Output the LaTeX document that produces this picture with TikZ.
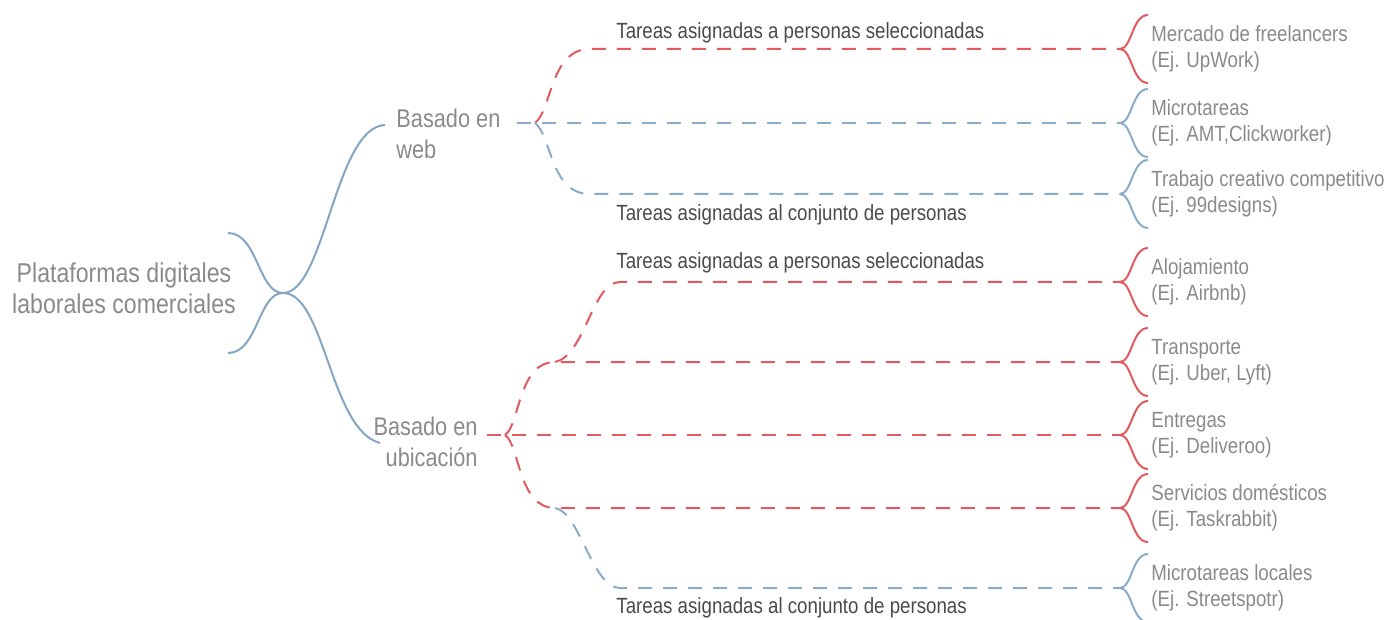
\documentclass[tikz,border=0pt]{standalone}
\usepackage{fontspec}
\setmainfont{Liberation Sans}[FakeStretch=0.85]
\definecolor{brred}{HTML}{E05A5F}
\definecolor{brblue}{HTML}{8AACC8}
\definecolor{rootblue}{HTML}{84A6C2}
\definecolor{txtgray}{HTML}{8A8A8A}
\definecolor{labgray}{HTML}{4A4A4A}
\tikzset{
  maintxt/.style={inner sep=0pt,text=txtgray,font=\fontsize{12.8}{15.5}\selectfont},
  leaftxt/.style={inner sep=0pt,anchor=west,align=left,text=txtgray,font=\fontsize{11}{13}\selectfont},
  tasklab/.style={inner sep=0pt,anchor=west,text=labgray,font=\fontsize{11}{13}\selectfont},
  rootline/.style={rootblue,line width=1pt},
  redpath/.style={brred,line width=1pt,dash pattern=on 7pt off 5.5pt},
  bluepath/.style={brblue,line width=1pt,dash pattern=on 7pt off 5.5pt},
}
\begin{document}
\begin{tikzpicture}[x=0.5pt,y=-0.5pt]
\useasboundingbox (0,0) rectangle (1392,620);

\node[maintxt,align=center,font=\fontsize{13.6}{15.5}\selectfont] (root) at (124,288) {Plataformas digitales\\laborales comerciales};
\node[maintxt,align=left,anchor=west] (web) at (396,134) {Basado en\\web};
\node[maintxt,align=right,anchor=east] (ubi) at (478,442) {Basado en\\ubicación};

\coordinate (rtip) at (283,293);
\coordinate (rtop) at (228,233);
\coordinate (rbot) at (228,353);
\coordinate (wend) at (385,125);
\coordinate (uend) at (380,443);

% root brace
\draw[rootline] (rtop) .. controls (258,233) and (258,293) .. (rtip);
\draw[rootline] (rbot) .. controls (258,353) and (258,293) .. (rtip);
\draw[rootline] (rtip) .. controls (325,293) and (335,127) .. (wend);
\draw[rootline] (rtip) .. controls (325,293) and (330,430) .. (uend);

% leaves
\foreach \n/\y/\c/\t in {1/49/brred/{Mercado de freelancers\\(Ej. UpWork)},
    2/123/brblue/{Microtareas\\(Ej. AMT,Clickworker)},
    3/194/brblue/{Trabajo creativo competitivo\\(Ej. 99designs)},
    4/282/brred/{Alojamiento\\(Ej. Airbnb)},
    5/362/brred/{Transporte\\(Ej. Uber, Lyft)},
    6/435/brred/{Entregas\\(Ej. Deliveroo)},
    7/508/brred/{Servicios domésticos\\(Ej. Taskrabbit)},
    8/588/brblue/{Microtareas locales\\(Ej. Streetspotr)}}{
  \coordinate (b\n) at (1120,\y);
  \draw[\c,line width=1pt] (b\n) .. controls (1132,\y) and (1132,{\y-34}) .. (1148,{\y-34});
  \draw[\c,line width=1pt] (b\n) .. controls (1132,\y) and (1132,{\y+34}) .. (1148,{\y+34});
  \node[leaftxt] (l\n) at (1151,\y) {\t};
}

% web
\coordinate (ws) at (517,123);
\coordinate (hw) at (535,123);
\draw[bluepath] (ws) -- (b2);
\draw[redpath] (hw) .. controls (552,110) and (550,49) .. (590,49) -- (b1);
\draw[bluepath] (hw) .. controls (552,136) and (550,194) .. (590,194) -- (b3);

% ubicacion
\coordinate (us) at (487,435);
\coordinate (hu) at (505,435);
\coordinate (hs) at (555,362);
\coordinate (hd) at (555,508);
\draw[redpath] (us) -- (b6);
\draw[redpath] (hu) .. controls (520,425) and (518,362) .. (hs) -- (b5);
\draw[redpath] (hs) .. controls (585,356) and (592,282) .. (620,282) -- (b4);
\draw[redpath] (hu) .. controls (520,445) and (518,508) .. (hd) -- (b7);
\draw[bluepath] (hd) .. controls (580,512) and (592,588) .. (620,588) -- (b8);

\node[tasklab] (sel1) at (616,33) {Tareas asignadas a personas seleccionadas};
\node[tasklab] (con1) at (616,215) {Tareas asignadas al conjunto de personas};
\node[tasklab] (sel2) at (616,263) {Tareas asignadas a personas seleccionadas};
\node[tasklab] (con2) at (616,608) {Tareas asignadas al conjunto de personas};
\end{tikzpicture}
\end{document}
